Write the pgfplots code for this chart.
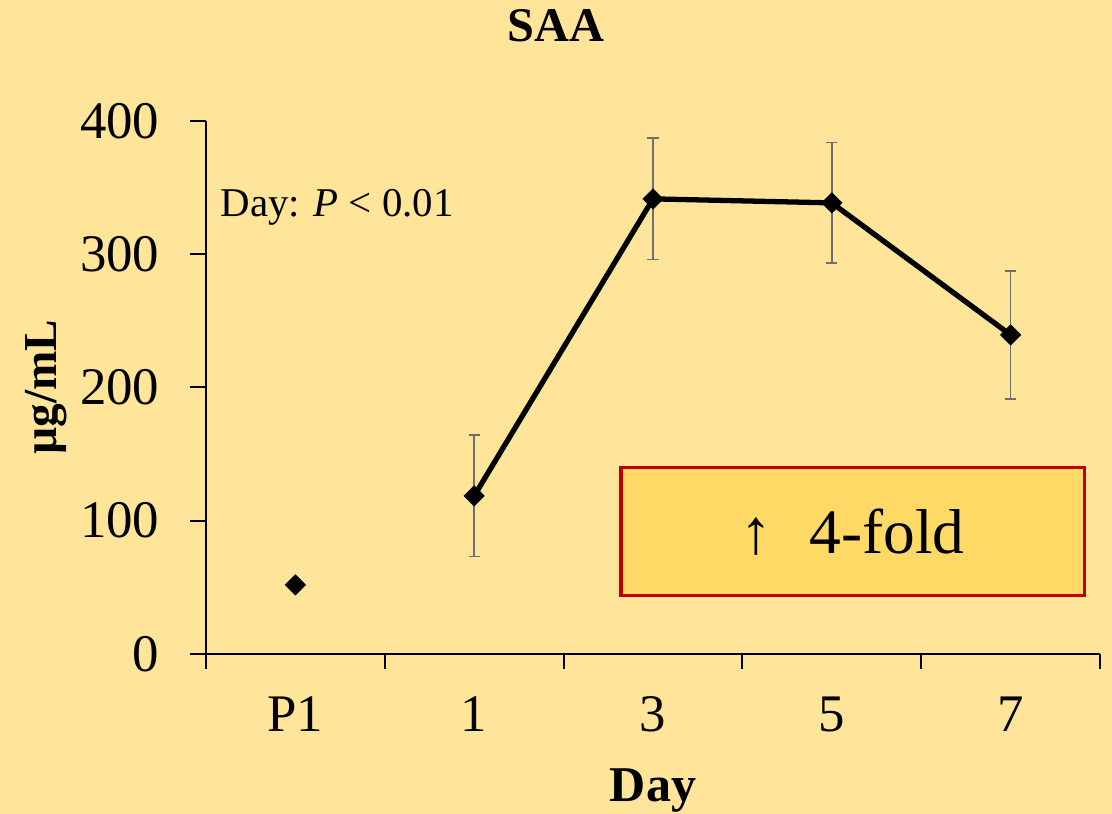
\documentclass[border=0pt]{standalone}
\usepackage{fontspec}
\setmainfont{Liberation Serif}
\usepackage{pgfplots}
\pgfplotsset{compat=1.18}
\definecolor{bg}{HTML}{FFE599}
\definecolor{boxfill}{HTML}{FFD966}
\definecolor{boxred}{HTML}{C00000}
\definecolor{errgray}{HTML}{6E6E6E}
\begin{document}
\begin{tikzpicture}
\fill[bg] (-74.1pt,-57.55pt) rectangle (325.9pt,235.2pt);
\begin{axis}[
  scale only axis,
  width=321.6pt, height=191.7pt,
  xmin=-0.5, xmax=4.5, ymin=0, ymax=400,
  axis x line*=bottom, axis y line*=left,
  axis line style={line width=0.75pt, black},
  xtick={0,1,2,3,4},
  xticklabels={P1,1,3,5,7},
  minor xtick={-0.5,0.5,1.5,2.5,3.5,4.5},
  major x tick style={draw=none},
  minor x tick style={line width=0.75pt, black},
  minor tick length=5.4pt,
  ytick={0,100,200,300,400},
  major y tick style={line width=0.75pt, black},
  major tick length=5.8pt,
  tick align=outside,
  /pgf/number format/assume math mode=true,
  tick label style={font=\fontsize{19}{22}\selectfont},
  xticklabel style={anchor=base, inner sep=0pt, yshift=-22.3pt},
  yticklabel style={anchor=east, inner sep=0pt, xshift=-10.8pt},
  xlabel={\textbf{Day}},
  xlabel style={at={(axis description cs:0.5,-0.2777)}, anchor=base, inner sep=0pt, font=\fontsize{18}{20}\selectfont},
  ylabel={\textbf{µg/mL}},
  ylabel style={at={(axis description cs:-0.1667,0.5)}, anchor=base, inner sep=0pt, rotate=0, font=\fontsize{17}{20}\selectfont},
  clip=false,
]
\node[anchor=base, inner sep=0pt, font=\fontsize{17.4}{20}\selectfont\bfseries] at (axis description cs:0.3915,1.150) {SAA};
\node[anchor=base west, inner sep=0pt, font=\fontsize{14.7}{16}\selectfont] at (axis description cs:0.0157,0.8199) {Day: \textit{P} < 0.01};
\draw[boxred, line width=1.1pt, fill=boxfill] (axis cs:1.821,43.5) rectangle (axis cs:4.413,139.6);
\node[font=\fontsize{22.8}{26}\selectfont, inner sep=0pt] at (axis cs:3.117,91.5) {↑\,\, 4-fold};
\addplot[only marks, mark=square*, mark size=2.55pt, mark options={rotate=45, fill=black, line width=0.3pt}] coordinates {(0,51.8)};
\addplot[black, line width=1.9pt, mark=square*, mark size=2.55pt, mark options={solid, rotate=45, fill=black, line width=0.3pt},
  error bars/.cd, y dir=both, y explicit,
  error bar style={errgray, line width=0.6pt},
  error mark options={rotate=90, mark size=2pt, errgray, line width=0.6pt}]
  coordinates {
    (1,118.6) +- (0,45.5)
    (2,341.5) +- (0,45.5)
    (3,338.5) +- (0,45.3)
    (4,239.4) +- (0,48)
  };
\end{axis}
\end{tikzpicture}
\end{document}
